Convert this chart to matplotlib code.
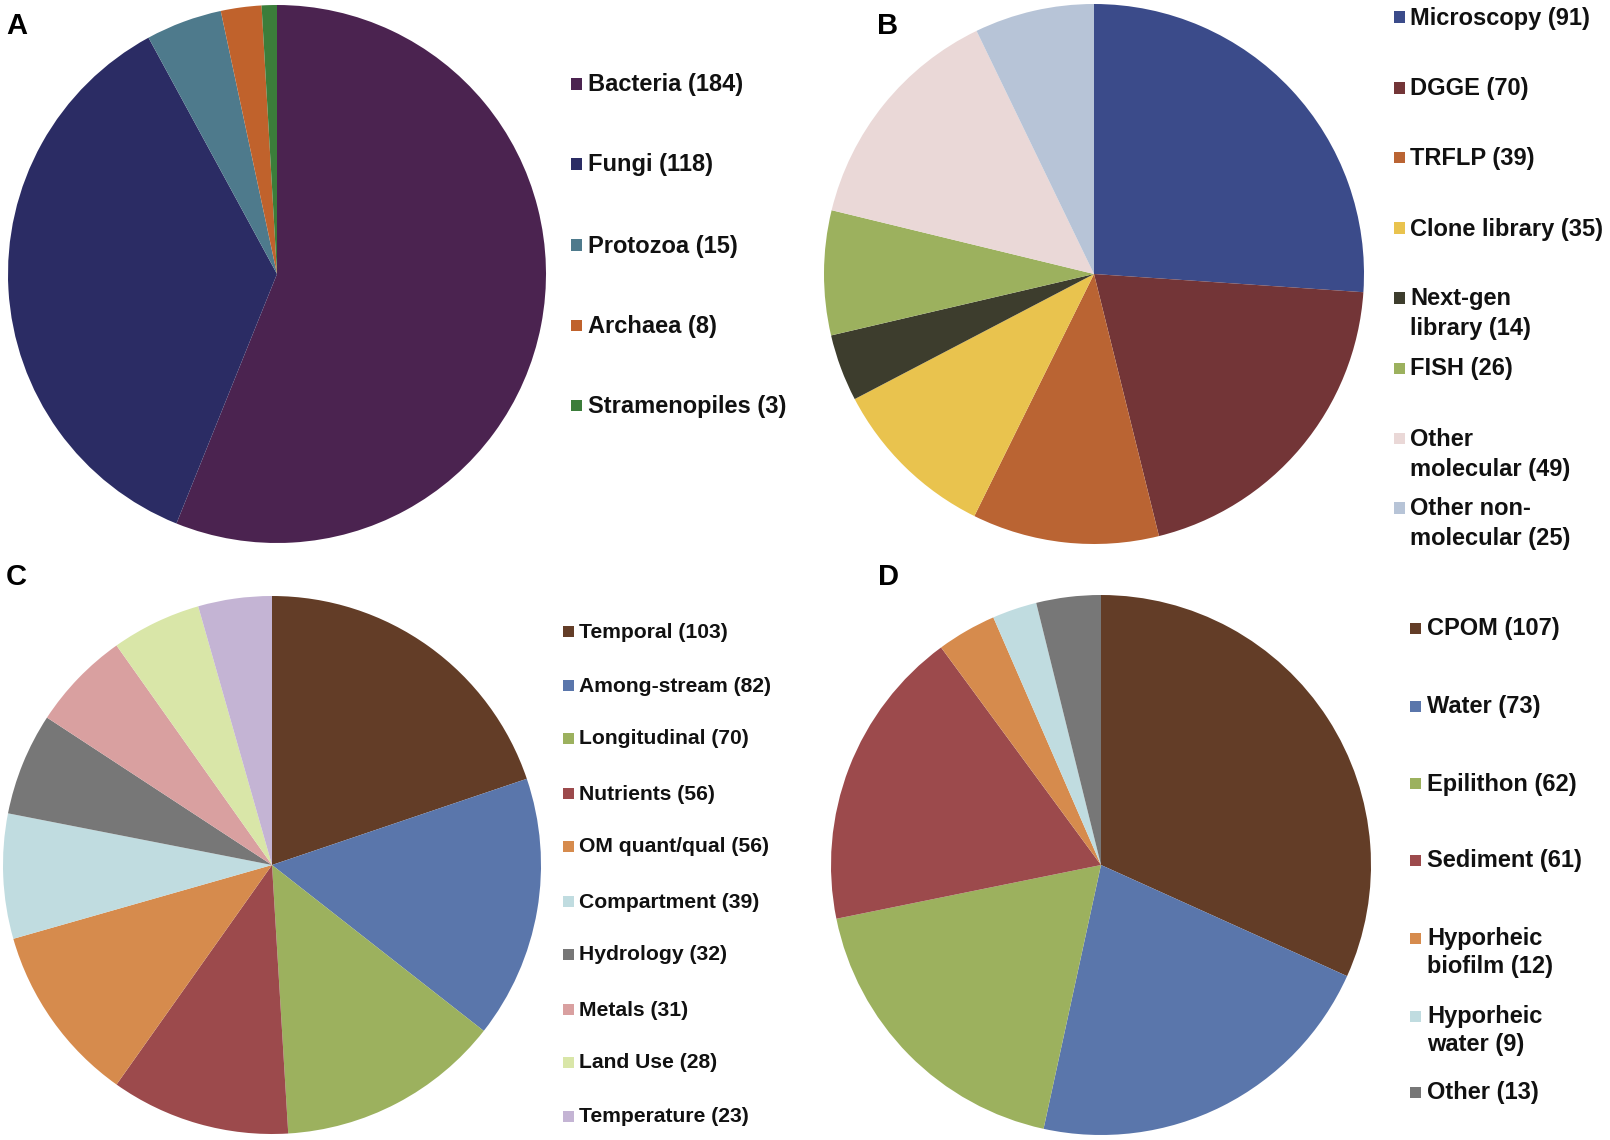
import matplotlib
matplotlib.use("Agg")
import matplotlib.pyplot as plt
from matplotlib.patches import Rectangle

plt.rcParams['font.family'] = ['Liberation Sans', 'DejaVu Sans']

W, H = 1610, 1140

# ---- data ----
a_labels = ["Bacteria (184)", "Fungi (118)", "Protozoa (15)", "Archaea (8)", "Stramenopiles (3)"]
a_values = [184, 118, 15, 8, 3]
a_colors = ["#4B2350", "#2B2C64", "#4E7A8C", "#C0622C", "#3B7D3A"]

b_labels = ["Microscopy (91)", "DGGE (70)", "TRFLP (39)", "Clone library (35)",
            "Next-gen\nlibrary (14)", "FISH (26)", "Other\nmolecular (49)",
            "Other non-\nmolecular (25)"]
b_values = [91, 70, 39, 35, 14, 26, 49, 25]
b_colors = ["#3B4B8A", "#733537", "#BA6433", "#E9C34E", "#3D3D2D", "#9CB15E",
            "#EAD8D7", "#B7C4D7"]

c_labels = ["Temporal (103)", "Among-stream (82)", "Longitudinal (70)", "Nutrients (56)",
            "OM quant/qual (56)", "Compartment (39)", "Hydrology (32)", "Metals (31)",
            "Land Use (28)", "Temperature (23)"]
c_values = [103, 82, 70, 56, 56, 39, 32, 31, 28, 23]
c_colors = ["#633D27", "#5A76AB", "#9CB15E", "#9C4A4C", "#D68B4D", "#C0DCE0",
            "#777777", "#D9A0A0", "#D9E6A8", "#C4B4D4"]

d_labels = ["CPOM (107)", "Water (73)", "Epilithon (62)", "Sediment (61)",
            "Hyporheic\nbiofilm (12)", "Hyporheic\nwater (9)", "Other (13)"]
d_values = [107, 73, 62, 61, 12, 9, 13]
d_colors = ["#633D27", "#5A76AB", "#9CB15E", "#9C4A4C", "#D68B4D", "#C0DCE0", "#777777"]

# ---- layout (pixels) ----
panels = [
    ("A", (17, 26), (277, 274), 269, a_values, a_colors, a_labels, 576, 588,
     [85, 165, 246, 326, 406], 17, 29),
    ("B", (888, 26), (1094, 274), 270, b_values, b_colors, b_labels, 1399, 1410,
     [18, 89, 159, 229, 299, 369, 440, 509], 17, 29),
    ("C", (16, 577), (272, 865), 269, c_values, c_colors, c_labels, 568, 579,
     [632, 686, 739, 794, 847, 902, 955, 1010, 1063, 1117], 15.2, 28),
    ("D", (888, 577), (1101, 865), 270, d_values, d_colors, d_labels, 1415, 1427,
     [629, 707, 784, 861, 939, 1017, 1093], 17, 28),
]

fig = plt.figure(figsize=(W / 100, H / 100), dpi=100)
fig.patch.set_facecolor("white")

for (letter, lpos, center, r, vals, cols, labs, sqx, tx, ys, fs, gap) in panels:
    cx, cy = center
    ax = fig.add_axes([(cx - r) / W, 1 - (cy + r) / H, 2 * r / W, 2 * r / H])
    ax.pie(vals, colors=cols, startangle=90, counterclock=False, radius=1,
           wedgeprops=dict(linewidth=0))
    ax.set_xlim(-1, 1)
    ax.set_ylim(-1, 1)
    ax.set_aspect('auto')
    ax.axis('off')

    fig.text(lpos[0] / W, 1 - lpos[1] / H, letter, fontsize=21, fontweight='bold',
             ha='center', va='center', color='black')

    sq = 11
    for lab, col, y in zip(labs, cols, ys):
        fig.patches.append(Rectangle(((sqx - sq / 2) / W, 1 - (y + sq / 2 - 1) / H),
                                     sq / W, sq / H, transform=fig.transFigure,
                                     facecolor=col, edgecolor='none'))
        for i, line in enumerate(lab.split("\n")):
            fig.text(tx / W, 1 - (y + i * gap) / H, line, fontsize=fs,
                     fontweight='bold', ha='left', va='center', color='#111111')

fig.savefig("out.png", dpi=100, facecolor="white")
